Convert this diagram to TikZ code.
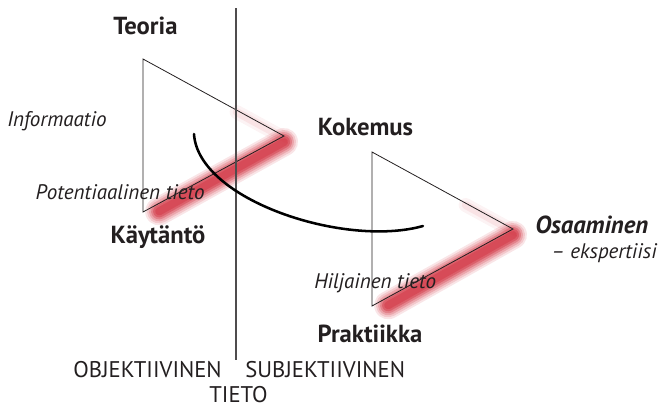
\documentclass[tikz,border=0pt]{standalone}
\usepackage{fontspec}
\setmainfont{PT Sans}
\usetikzlibrary{calc}
\definecolor{glowred}{RGB}{208,45,60}
\definecolor{ink}{RGB}{35,31,32}
\begin{document}
\begin{tikzpicture}[x=0.75pt,y=-0.75pt,
  boldlbl/.style={font=\fontsize{18.5}{22}\selectfont\bfseries, inner sep=0pt, text=ink},
  itallbl/.style={font=\fontsize{15.8}{19}\selectfont\itshape, inner sep=0pt, text=ink},
  capslbl/.style={font=\fontsize{17}{20}\selectfont, inner sep=0pt, text=ink},
  tri/.style={draw=ink, line width=0.6pt, line join=miter},
  divider/.style={draw=ink!80, line width=1pt},
  arc/.style={draw=black, line width=1.9pt, line cap=round}]
\useasboundingbox (0,0) rectangle (662,407);
% triangle corners
\coordinate (t1a) at (143,59);
\coordinate (t1b) at (284,136);
\coordinate (t1c) at (143,212);
\coordinate (t2a) at (372,152);
\coordinate (t2b) at (513,229);
\coordinate (t2c) at (372,306);
% glows
\foreach \p/\q in {t1c/t1b, t2c/t2b}{
  \foreach \w/\o in {28/0.12, 24/0.16, 20/0.22, 16/0.3, 12/0.4, 8/0.4}{
    \draw[glowred, line width=\w*0.75pt, opacity=\o, line cap=round]
      ($(\p)!0.1!(\q)+(2,7)$) -- ($(\q)+(0,6)$);
  }
}
\foreach \w/\o in {14/0.06, 8/0.08}{
  \draw[glowred, line width=\w*0.75pt, opacity=\o, line cap=round]
    ($(t1b)!0.35!(t1a)+(2,3)$) -- ($(t1b)+(2,3)$);
  \draw[glowred, line width=\w*0.75pt, opacity=\o, line cap=round]
    ($(t2b)!0.35!(t2a)+(2,3)$) -- ($(t2b)+(2,3)$);
}
% triangles
\draw[tri] (t1a) -- (t1b) -- (t1c) -- cycle;
\draw[tri] (t2a) -- (t2b) -- (t2c) -- cycle;
% divider
\coordinate (dtop) at (236,8);
\coordinate (dbot) at (236,360);
\draw[divider] (dtop) -- (dbot);
% arc
\coordinate (arcs) at (194,134);
\coordinate (arce) at (423,226);
\draw[arc] (arcs) .. controls (198,200) and (345,248) .. (arce);
% labels
\node[boldlbl, anchor=base] (teoria) at (145.5,35) {Teoria};
\node[itallbl, anchor=base west] (info) at (7,127) {Informaatio};
\node[boldlbl, anchor=base] (kokemus) at (365.5,135) {Kokemus};
\node[itallbl, anchor=base east] (pot) at (205,199) {Potentiaalinen tieto};
\node[boldlbl, anchor=base] (kaytanto) at (158,243) {Käytäntö};
\node[boldlbl, font=\fontsize{18.5}{22}\selectfont\bfseries\itshape, anchor=base west] (osaa) at (535,233) {Osaaminen};
\node[itallbl, anchor=base east] (eksp) at (657,258) {– ekspertiisi};
\node[itallbl, anchor=base west] (hilj) at (314,288) {Hiljainen tieto};
\node[boldlbl, anchor=base] (prak) at (370,342) {Praktiikka};
\node[capslbl, anchor=base east] (obj) at (222,377) {OBJEKTIIVINEN};
\node[capslbl, anchor=base west] (subj) at (245,377) {SUBJEKTIIVINEN};
\node[capslbl, anchor=base] (tieto) at (238.5,402) {TIETO};
\end{tikzpicture}
\end{document}
